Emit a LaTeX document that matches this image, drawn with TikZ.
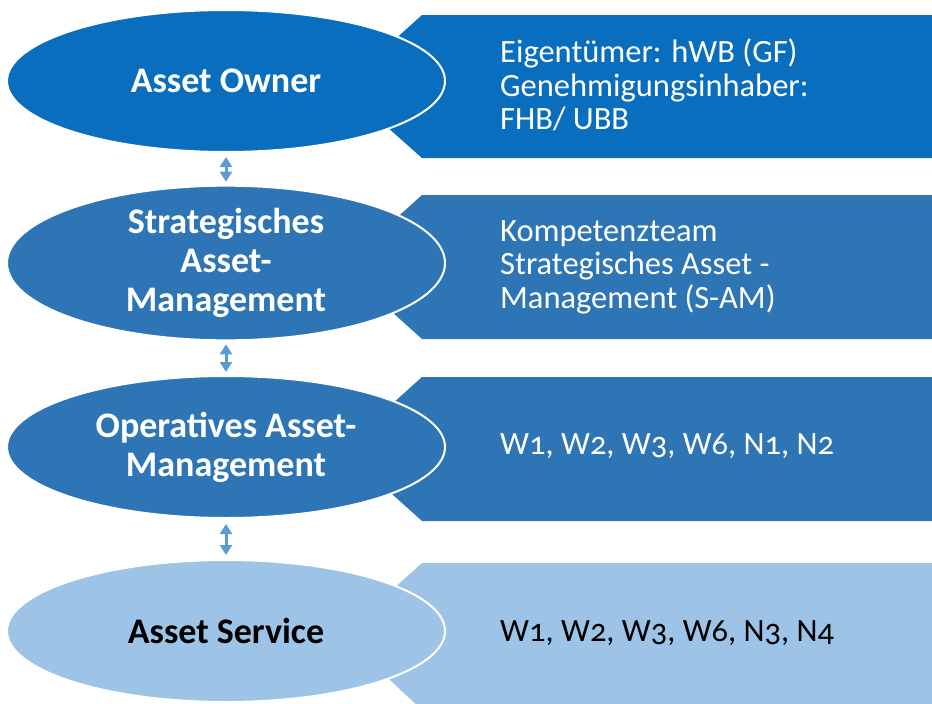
\documentclass[tikz,border=0pt]{standalone}
\usepackage{fontspec}
\setmainfont{Carlito}[Numbers=OldStyle]
\usetikzlibrary{shapes.geometric,arrows.meta}
\definecolor{cOne}{RGB}{10,110,190}
\definecolor{cMid}{RGB}{46,117,182}
\definecolor{cLight}{RGB}{157,195,230}
\definecolor{cArrow}{RGB}{91,155,213}
\tikzset{
  ell/.style={ellipse, draw=white, line width=2pt, minimum width=438pt, minimum height=142pt, inner sep=0pt, align=center, font=\fontsize{36}{39}\selectfont\bfseries},
  boxtext/.style={anchor=west, align=left, inner sep=0pt, font=\fontsize{32.5}{33.5}\selectfont},
  dbl/.style={cArrow, line width=3pt, {Triangle[width=12pt,length=10pt]}-{Triangle[width=12pt,length=10pt]}},
}
\begin{document}
\begin{tikzpicture}[x=1pt,y=-1pt]
\useasboundingbox (0,0) rectangle (932,704);
% boxes
\fill[cOne] (342,87) -- (422,15) -- (935,15) -- (935,158) -- (422,158) -- cycle;
\fill[cMid] (342,267) -- (422,195) -- (935,195) -- (935,339) -- (422,339) -- cycle;
\fill[cMid] (342,449) -- (422,377) -- (935,377) -- (935,521) -- (422,521) -- cycle;
\fill[cLight] (342,635) -- (422,563) -- (935,563) -- (935,710) -- (422,710) -- cycle;
% ellipses
\node[ell, fill=cOne, text=white] (e1) at (226,81) {Asset Owner};
\node[ell, fill=cMid, text=white] (e2) at (226,263) {Strategisches\\Asset-\\Management};
\node[ell, fill=cMid, text=white] (e3) at (226,447) {Operatives Asset-\\Management};
\node[ell, fill=cLight, text=black] (e4) at (226,631) {Asset Service};
% texts
\node[boxtext, text=white] (t1) at (500,85) {Eigentümer: hWB (GF)\\Genehmigungsinhaber:\\FHB/ UBB};
\node[boxtext, text=white] (t2) at (500,267) {Kompetenzteam\\Strategisches Asset -\\Management (S-AM)};
\node[boxtext, text=white] (t3) at (500,446) {W1, W2, W3, W6, N1, N2};
\node[boxtext, text=black] (t4) at (500,633) {W1, W2, W3, W6, N3, N4};
% arrows
\draw[dbl, shorten <=4pt, shorten >=3pt] (e1.south) -- (e2.north);
\draw[dbl, shorten <=3pt, shorten >=3pt] (e2.south) -- (e3.north);
\draw[dbl, shorten <=5pt, shorten >=4pt] (e3.south) -- (e4.north);
\end{tikzpicture}
\end{document}
